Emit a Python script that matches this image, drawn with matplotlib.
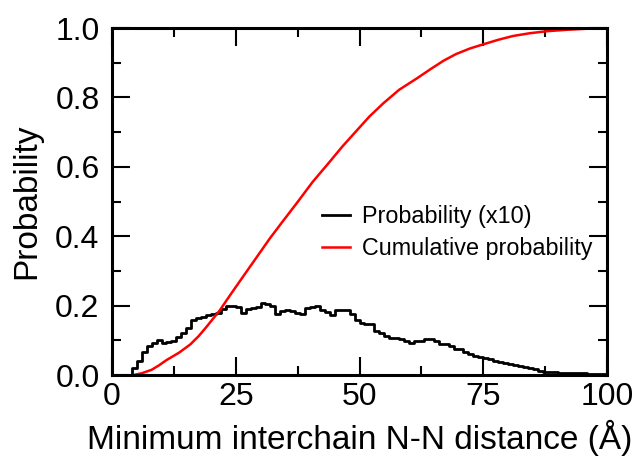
# Distribuição da menor distância N-N entre cadeias: histograma (x10) e probabilidade acumulada.

import numpy as np
import matplotlib
matplotlib.use("Agg")
import matplotlib.pyplot as plt
from matplotlib.ticker import MultipleLocator

plt.rcParams['font.family'] = ['Liberation Sans', 'DejaVu Sans']

# Histograma com bins de 1 Å (0 a 100), probabilidade multiplicada por 10.
bin_edges = list(range(0, 101))
prob_x10 = [
    0.0, 0.0, 0.0, 0.0, 0.02, 0.04, 0.065, 0.085, 0.092, 0.10,
    0.092, 0.095, 0.097, 0.11, 0.12, 0.135, 0.158, 0.164, 0.168, 0.172,
    0.175, 0.18, 0.19, 0.20, 0.198, 0.197, 0.178, 0.19, 0.193, 0.195,
    0.208, 0.205, 0.199, 0.176, 0.185, 0.186, 0.185, 0.18, 0.176, 0.194,
    0.196, 0.199, 0.187, 0.183, 0.172, 0.186, 0.188, 0.187, 0.175, 0.158,
    0.151, 0.148, 0.146, 0.128, 0.12, 0.112, 0.108, 0.106, 0.105, 0.099,
    0.092, 0.099, 0.097, 0.103, 0.104, 0.098, 0.09, 0.089, 0.083, 0.076,
    0.074, 0.066, 0.062, 0.056, 0.052, 0.048, 0.045, 0.04, 0.038, 0.034,
    0.031, 0.03, 0.026, 0.022, 0.02, 0.017, 0.013, 0.01, 0.008, 0.008,
    0.007, 0.006, 0.006, 0.007, 0.005, 0.006, 0.004, 0.004, 0.003, 0.003,
]

# Probabilidade acumulada (curva suave).
cum_x = [4.3, 6, 8, 9.5, 11, 13.5, 15.8, 17.5, 19.1, 21.8, 23.8, 25.9, 29, 31.9, 34.5,
         37.3, 40.5, 44.0, 46.5, 49.4, 52, 54.8, 58, 61.6, 64.5, 67.0, 69.5, 72.3, 75,
         78, 81, 84.4, 88, 92, 96, 100]
cum_prob = [0.0, 0.005, 0.015, 0.028, 0.043, 0.064, 0.088, 0.112, 0.139, 0.187, 0.229,
            0.272, 0.335, 0.394, 0.443, 0.495, 0.556, 0.615, 0.658, 0.704, 0.745, 0.783,
            0.822, 0.855, 0.883, 0.906, 0.925, 0.941, 0.953, 0.966, 0.977, 0.985, 0.991,
            0.995, 0.998, 1.0]

fig = plt.figure(figsize=(6.39, 4.57), dpi=100)
ax = fig.add_axes([0.1753, 0.1794, 0.7747, 0.7593])

# step "post": repito o último valor para fechar o último bin.
ax.step(bin_edges, prob_x10 + [prob_x10[-1]], where="post", color="black", lw=2.0,
        label="Probability (x10)")
ax.plot(cum_x, cum_prob, color="red", lw=1.8, label="Cumulative probability")

ax.set_xlim(0, 100)
ax.set_ylim(0, 1.0)
ax.xaxis.set_major_locator(MultipleLocator(25))
ax.xaxis.set_minor_locator(MultipleLocator(12.5))
ax.yaxis.set_major_locator(MultipleLocator(0.2))
ax.yaxis.set_minor_locator(MultipleLocator(0.1))
ax.yaxis.set_major_formatter(plt.FormatStrFormatter("%.1f"))

ax.tick_params(which="both", direction="in", top=True, right=True, width=1.5, labelsize=23)
ax.tick_params(which="major", length=13)
ax.tick_params(which="minor", length=6.5)
ax.tick_params(axis="x", which="major", pad=5)
ax.tick_params(axis="y", which="major", pad=9)
for spine in ax.spines.values():
    spine.set_linewidth(2.2)

ax.set_xlabel("Minimum interchain N-N distance (Å)", fontsize=24, labelpad=6)
ax.set_ylabel("Probability", fontsize=24, labelpad=9)

ax.legend(loc="center left", bbox_to_anchor=(0.424, 0.411), frameon=False, fontsize=16.8,
          borderaxespad=0, borderpad=0, handlelength=1.2, handletextpad=0.5, labelspacing=0.4)

fig.savefig("out.png", dpi=100)
